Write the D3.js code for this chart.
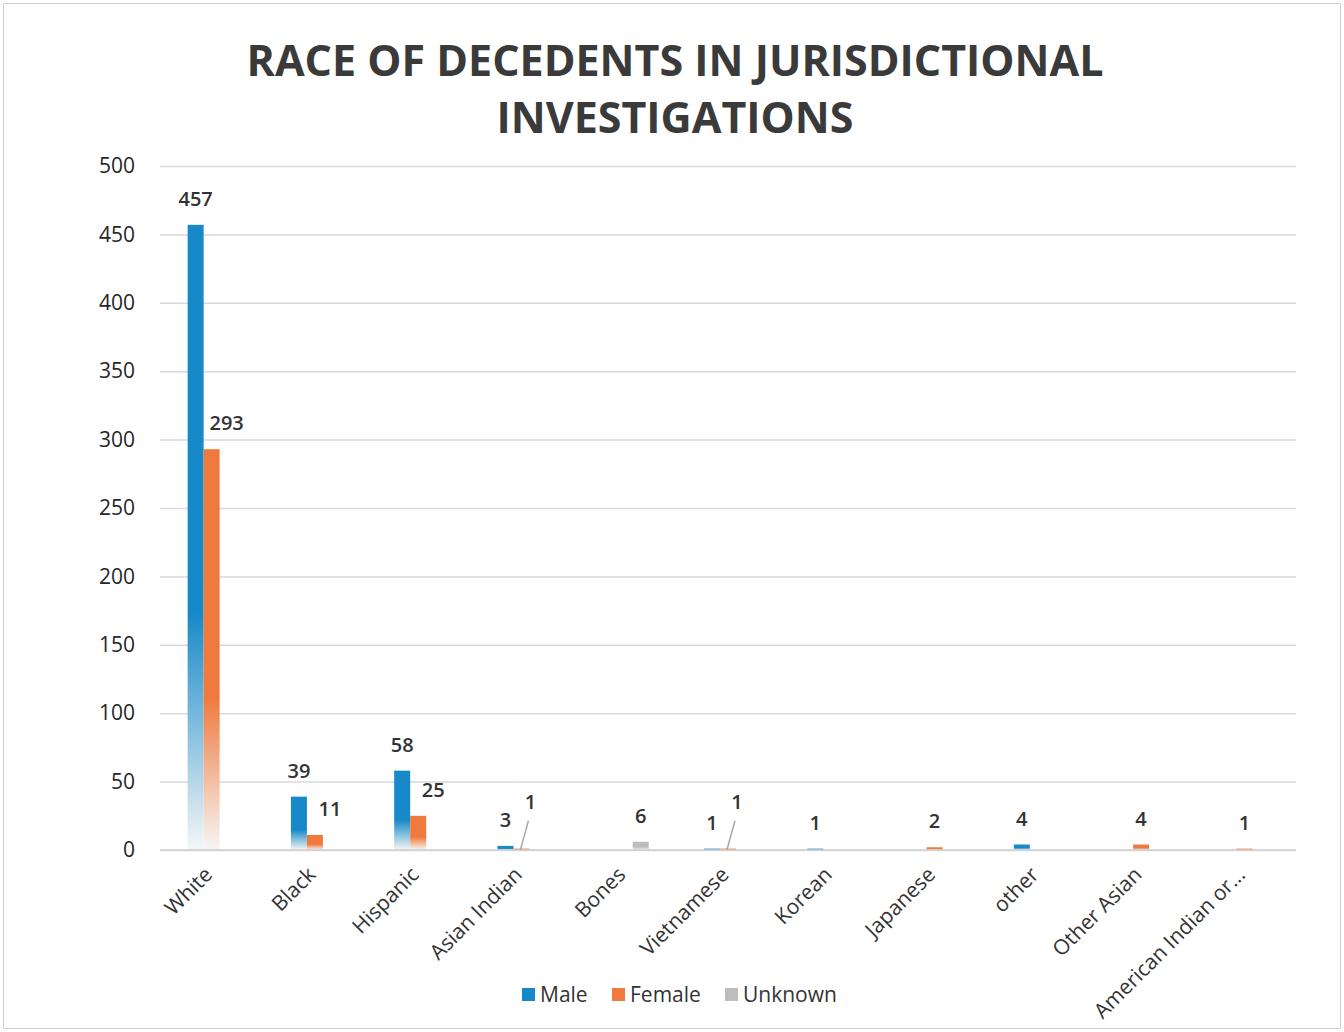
<!DOCTYPE html>
<html>
<head>
<meta charset="utf-8">
<script src="https://cdn.jsdelivr.net/npm/d3@7"></script>
<style>
  body { margin: 0; background: #fff; }
  text { font-family: "Open Sans", "Noto Sans", sans-serif; }
</style>
</head>
<body>
<div id="chart"></div>
<script>
// categories and series
var categories = ["White", "Black", "Hispanic", "Asian Indian", "Bones", "Vietnamese",
                  "Korean", "Japanese", "other", "Other Asian", "American Indian or..."];
var seriesNames = ["Male", "Female", "Unknown"];
var maleValues    = [457, 39, 58, 3, 0, 1, 1, 0, 4, 0, 0];
var femaleValues  = [293, 11, 25, 1, 0, 1, 0, 2, 0, 4, 1];
var unknownValues = [0, 0, 0, 0, 6, 0, 0, 0, 0, 0, 0];
var yTicks = [0, 50, 100, 150, 200, 250, 300, 350, 400, 450, 500];
var titleLines = ["RACE OF DECEDENTS IN JURISDICTIONAL", "INVESTIGATIONS"];
// labels that Excel pushed off the bar with a leader line
var calloutLabels = [{ cat: "Asian Indian", series: "Female" }, { cat: "Vietnamese", series: "Female" }];

var colors = { Male: "#1789c8", Female: "#f07a3e", Unknown: "#bdbdbd" };
var W = 1344, H = 1032;
var margin = { top: 166, right: 48, bottom: 182, left: 160 };
var width = 1296 - margin.left, height = 850 - margin.top;

var svg = d3.select("#chart").append("svg")
    .attr("width", W).attr("height", H);

svg.append("rect")                       // outer frame of the chart area
    .attr("x", 3.5).attr("y", 3.5)
    .attr("width", W - 7).attr("height", H - 7)
    .attr("fill", "#fff").attr("stroke", "#d0d0d0");

// gradients: solid on top, washing out to white at the base
var defs = svg.append("defs");
seriesNames.forEach(function (s) {
    var g = defs.append("linearGradient")
        .attr("id", "grad-" + s)
        .attr("x1", 0).attr("y1", 0).attr("x2", 0).attr("y2", 1);
    g.append("stop").attr("offset", "0%").attr("stop-color", colors[s]);
    g.append("stop").attr("offset", "62%").attr("stop-color", colors[s]);
    g.append("stop").attr("offset", "100%").attr("stop-color", "#f6f6f6");
});

var title = svg.append("text")
    .attr("x", 675).attr("y", 76)
    .attr("text-anchor", "middle")
    .attr("font-size", 43).attr("font-weight", 700)
    .attr("fill", "#3a3a3a");
titleLines.forEach(function (t, i) {
    title.append("tspan").attr("x", 675).attr("dy", i === 0 ? 0 : 57).text(t);
});

var g = svg.append("g")
    .attr("transform", "translate(" + margin.left + "," + margin.top + ")");

var x = d3.scaleBand().domain(categories).range([0, width]);
var xs = d3.scaleBand().domain(seriesNames).range([-24, 24]);
var y = d3.scaleLinear().domain([0, 500]).range([height, 0]);

// gridlines
g.append("g").attr("class", "grid")
    .call(d3.axisLeft(y).tickValues(yTicks).tickSize(-width).tickFormat(""))
    .call(function (s) {
        s.select(".domain").remove();
        s.selectAll("line").attr("stroke", "#d9d9d9").attr("stroke-width", 1.5);
    });

// y axis labels
g.append("g")
    .call(d3.axisLeft(y).tickValues(yTicks).tickSize(0).tickPadding(25))
    .call(function (s) {
        s.select(".domain").remove();
        s.selectAll("text").attr("font-size", 21).attr("fill", "#262626");
    });

var rows = [];
categories.forEach(function (c, i) {
    rows.push({ cat: c, series: "Male", value: maleValues[i], male: maleValues[i] });
    rows.push({ cat: c, series: "Female", value: femaleValues[i], male: maleValues[i] });
    rows.push({ cat: c, series: "Unknown", value: unknownValues[i], male: maleValues[i] });
});
var shown = rows.filter(function (d) { return d.value > 0; });

function barX(d) { return x(d.cat) + x.bandwidth() / 2 + xs(d.series); }
function isCallout(d) {
    return calloutLabels.some(function (c) { return c.cat === d.cat && c.series === d.series; });
}
// female labels that would sit on a taller male bar are nudged to the right
function labelShift(d) {
    if (isCallout(d)) return 9;
    if (d.series === "Female" && d.male > d.value + 5) return 15;
    return 0;
}

g.selectAll("rect.bar").data(shown).enter().append("rect")
    .attr("class", "bar")
    .attr("x", barX)
    .attr("y", function (d) { return y(d.value); })
    .attr("width", xs.bandwidth())
    .attr("height", function (d) { return height - y(d.value); })
    .attr("fill", function (d) { return "url(#grad-" + d.series + ")"; });

// x baseline
g.append("line")
    .attr("x1", 0).attr("x2", width)
    .attr("y1", height).attr("y2", height)
    .attr("stroke", "#cfcfcf").attr("stroke-width", 1.5);

// leader lines for the offset labels
g.selectAll("line.leader").data(shown.filter(isCallout)).enter().append("line")
    .attr("class", "leader")
    .attr("x1", function (d) { return barX(d) + xs.bandwidth() / 2 - 1; })
    .attr("y1", function (d) { return y(d.value) + 1; })
    .attr("x2", function (d) { return barX(d) + xs.bandwidth() / 2 + 7; })
    .attr("y2", function (d) { return y(d.value) - 28; })
    .attr("stroke", "#a6a6a6").attr("stroke-width", 1.5);

g.selectAll("text.val").data(shown).enter().append("text")
    .attr("class", "val")
    .attr("x", function (d) { return barX(d) + xs.bandwidth() / 2 + labelShift(d); })
    .attr("y", function (d) { return y(d.value) - (isCallout(d) ? 40 : 19); })
    .attr("text-anchor", "middle")
    .attr("font-size", 20)
    .attr("font-weight", 600)
    .attr("fill", "#333")
    .text(function (d) { return d.value; });

// category labels rotated 45 degrees
g.selectAll("text.cat").data(categories).enter().append("text")
    .attr("class", "cat")
    .attr("transform", function (c) {
        return "translate(" + (x(c) + x.bandwidth() / 2 + 2) + "," + (height + 26) + ") rotate(-45)";
    })
    .attr("text-anchor", "end")
    .attr("font-size", 21)
    .attr("fill", "#333")
    .text(function (c) { return c; });

// legend
var legendX = [522, 612, 725];
var legend = svg.append("g").attr("transform", "translate(0,995)");
seriesNames.forEach(function (s, i) {
    legend.append("rect")
        .attr("x", legendX[i]).attr("y", -7)
        .attr("width", 13).attr("height", 13)
        .attr("fill", colors[s]);
    legend.append("text")
        .attr("x", legendX[i] + 18).attr("y", 7)
        .attr("font-size", 21).attr("fill", "#333")
        .text(s);
});
</script>
</body>
</html>
